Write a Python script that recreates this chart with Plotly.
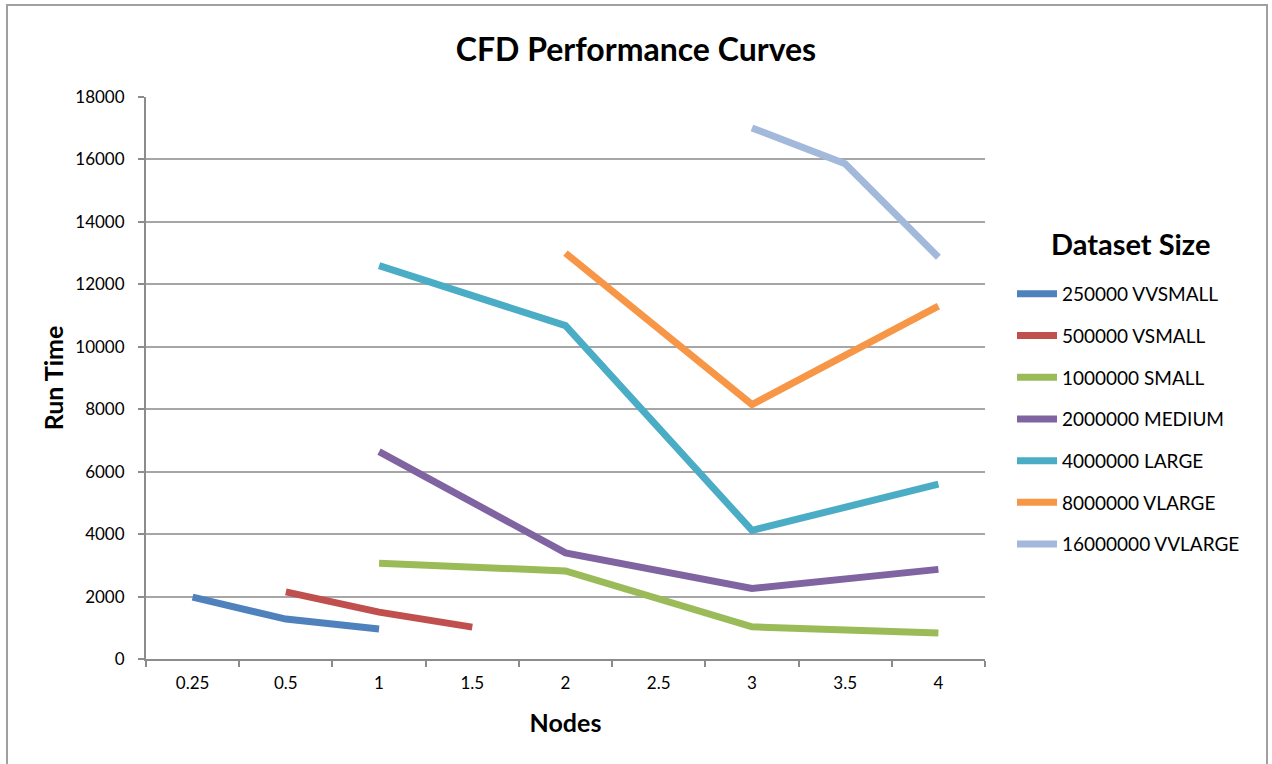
import plotly.graph_objects as go

# Node counts (category axis)
nodes = ["0.25", "0.5", "1", "1.5", "2", "2.5", "3", "3.5", "4"]

# Run times per dataset size; None where a size was not run at that node count
vvsmall = [1980, 1280, 960, None, None, None, None, None, None]
vsmall = [None, 2150, 1500, 1020, None, None, None, None, None]
small = [None, None, 3070, None, 2820, None, 1030, None, 830]
medium = [None, None, 6640, None, 3400, None, 2260, None, 2870]
large = [None, None, 12600, None, 10680, None, 4120, None, 5600]
vlarge = [None, None, None, None, 13000, None, 8150, None, 11300]
vvlarge = [None, None, None, None, None, None, 17010, 15860, 12870]

series_names = [
    "250000 VVSMALL",
    "500000 VSMALL",
    "1000000 SMALL",
    "2000000 MEDIUM",
    "4000000 LARGE",
    "8000000 VLARGE",
    "16000000 VVLARGE",
]
series_values = [vvsmall, vsmall, small, medium, large, vlarge, vvlarge]
series_colors = ["#4F81BD", "#C0504D", "#9BBB59", "#8064A2", "#4BACC6", "#F79646", "#A2B9DC"]

y_ticks = list(range(0, 18001, 2000))
y_tick_labels = [str(v) for v in y_ticks]

FONT = "Lato"
W, H = 1272, 764
L, R, T, B = 146, 985, 97, 659


def px_x(p):
    return (p - L) / (R - L)


def px_y(p):
    return (B - p) / (B - T)


fig = go.Figure()
for i, (name, vals, col) in enumerate(zip(series_names, series_values, series_colors)):
    fig.add_trace(go.Scatter(
        x=nodes, y=vals, name=name, mode="lines",
        line=dict(color=col, width=7),
        connectgaps=True,
        legendgroup=f"g{i}",
    ))

fig.update_layout(
    width=W, height=H,
    margin=dict(l=L, r=W - R, t=T, b=H - B, pad=0),
    paper_bgcolor="white", plot_bgcolor="white",
    font=dict(family=FONT, color="#000000", size=17),
    title=dict(
        text="<b>CFD Performance Curves</b>",
        font=dict(family=FONT, size=32, color="#000000"),
        x=0.5, xanchor="center", xref="container",
        y=1 - 50 / H, yanchor="middle", yref="container",
    ),
    showlegend=True,
    legend=dict(
        font=dict(family=FONT, size=19, color="#000000"),
        x=px_x(1012), xanchor="left",
        y=px_y(275), yanchor="top",
        traceorder="grouped", tracegroupgap=14,
        bgcolor="rgba(0,0,0,0)", borderwidth=0,
        itemwidth=40,
    ),
    xaxis=dict(
        type="category",
        categoryorder="array", categoryarray=nodes,
        range=[-0.5, len(nodes) - 0.5],
        showgrid=False, zeroline=False,
        showline=True, linecolor="#8C8C8C", linewidth=2,
        ticks="outside", tickson="boundaries", ticklen=6, tickwidth=2, tickcolor="#8C8C8C",
        tickfont=dict(family=FONT, size=17, color="#000000"),
        ticklabelstandoff=8,
        title=dict(text="<b>Nodes</b>", font=dict(family=FONT, size=25, color="#000000"), standoff=22),
    ),
    yaxis=dict(
        range=[0, 18000], tickvals=y_ticks, ticktext=y_tick_labels,
        showgrid=True, gridcolor="#A6A6A6", gridwidth=2,
        zeroline=False,
        showline=True, linecolor="#8C8C8C", linewidth=2,
        ticks="outside", ticklen=6, tickwidth=2, tickcolor="#8C8C8C",
        tickfont=dict(family=FONT, size=17, color="#000000"),
        ticklabelstandoff=10,
        title=dict(text="<b>Run Time</b>", font=dict(family=FONT, size=25, color="#000000"), standoff=5),
    ),
)

# Legend heading
fig.add_annotation(
    text="<b>Dataset Size</b>", xref="paper", yref="paper",
    x=px_x(1130), y=px_y(243), xanchor="center", yanchor="middle",
    showarrow=False, font=dict(family=FONT, size=29, color="#000000"),
)

# Outer chart frame
fig.add_shape(
    type="rect", xref="paper", yref="paper",
    x0=px_x(7), x1=px_x(1267),
    y0=px_y(800), y1=px_y(5),
    line=dict(color="#A0A0A0", width=2), fillcolor="rgba(0,0,0,0)",
    layer="below",
)

fig.write_html("out.html")
